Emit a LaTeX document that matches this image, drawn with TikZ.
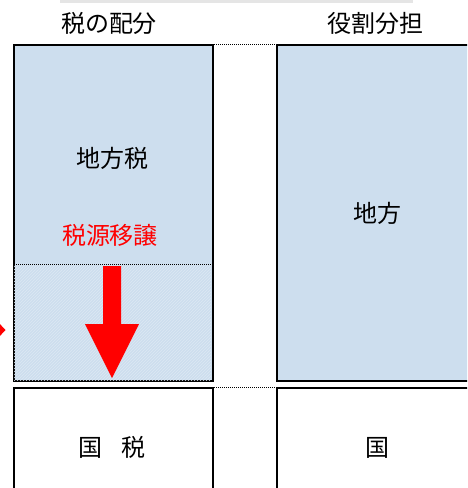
\documentclass[tikz,border=0pt]{standalone}
\usepackage{fontspec}
\setmainfont{Noto Sans CJK JP}
\usetikzlibrary{patterns}
\definecolor{paleblue}{HTML}{CDDEEE}

\begin{document}
\begin{tikzpicture}[x=1pt, y=-1pt,
    box/.style={draw, line width=2pt, anchor=north west, inner sep=0pt, minimum width=199pt},
    lbl/.style={font=\fontsize{24}{28}\selectfont},
    link/.style={densely dotted, line width=1pt}]
    \useasboundingbox (0,0) rectangle (467,488);
    \clip (0,0) rectangle (467,488);
    \fill[gray!20] (60,0) rectangle (413,3);
    % headings
    \node (haibunT) [lbl] at (109,23) {税の配分};
    \node (yakuwariT) [lbl] at (375,23) {役割分担};
    % upper boxes
    \node (haibun) [box, fill=paleblue, minimum height=336pt] at (13,44) {};
    \node (yakuwari) [box, fill=paleblue, minimum height=336pt, minimum width=200pt] at (276,44) {};
    \node (iten) [anchor=north west, inner sep=0pt, minimum width=197pt, minimum height=116pt,
        pattern=north east lines, pattern color=white!30!paleblue] at (14,264) {};
    \draw[link] (iten.north west) -- (iten.north east);
    % lower boxes
    \node (kokuzei) [box, minimum height=120pt] at (13,387) {};
    \node (kuni) [box, minimum height=120pt, minimum width=200pt] at (276,387) {};
    \draw[link] (haibun.north east) -- (yakuwari.north west);
    \draw[link] (kokuzei.north east) -- (kuni.north west);
    % labels
    \node (chihouzei) [lbl] at (112,158) {地方税};
    \node (zeigen) [lbl, text=red] at (110,235) {税源移譲};
    \node (chihou) [lbl] at (yakuwari.center) {地方};
    \node (kokuzeiL) [lbl] at (112,447) {国\hspace{0.8em}税};
    \node (kuniL) [lbl] at (kuni.center) {国};
    % arrow
    \fill[red] (103,266) -- (121,266) -- (121,324) -- (139,324) -- (112,378)
        -- (85,324) -- (103,324) -- cycle;
    \fill[red] (5.5,330) -- (-2,322) -- (-9.5,330) -- (-2,338) -- cycle;
\end{tikzpicture}
\end{document}
